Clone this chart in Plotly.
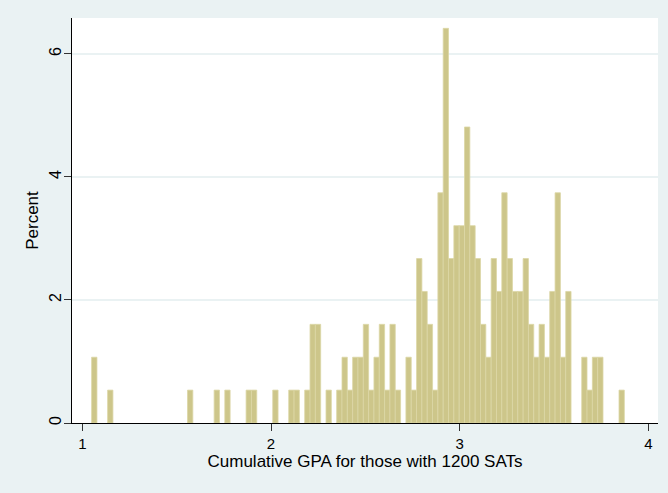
import plotly.graph_objects as go

# Histogram of cumulative GPA (100 equal-width bins), heights in percent
bin_start = 1.049
bin_width = 0.028235

# non-empty bins: index of the bin and number of students in it
bin_index = [0, 3, 18, 23, 25, 29, 30, 34, 37, 38, 40, 41, 42, 44, 46, 47, 48,
             49, 50, 51, 52, 53, 54, 55, 56, 57, 59, 60, 61, 62, 63, 64, 65,
             66, 67, 68, 69, 70, 71, 72, 73, 74, 75, 76, 77, 78, 79, 80, 81,
             82, 83, 84, 85, 86, 87, 88, 89, 92, 93, 94, 95, 99]
bin_count = [2, 1, 1, 1, 1, 1, 1, 1, 1, 1, 1, 3, 3, 1, 1, 2, 1,
             2, 2, 3, 1, 2, 3, 1, 3, 1, 2, 1, 5, 4, 3, 1, 7,
             12, 5, 6, 6, 9, 6, 5, 3, 2, 5, 4, 7, 5, 4, 4, 5,
             3, 2, 3, 2, 4, 7, 2, 4, 2, 1, 2, 2, 1]

x_ticks = [1, 2, 3, 4]
y_ticks = [0, 2, 4, 6]

total = sum(bin_count)
centers = [bin_start + (i + 0.5) * bin_width for i in bin_index]
percent = [c / total * 100 for c in bin_count]

BG = "#EAF2F3"
FONT = "Liberation Sans, Arial, Helvetica, sans-serif"

fig = go.Figure(
    go.Bar(
        x=centers,
        y=percent,
        width=bin_width,
        marker=dict(color="#CDC68A", line=dict(color="#DCD7A6", width=0.8)),
        showlegend=False,
    )
)

fig.update_layout(
    width=668,
    height=493,
    margin=dict(l=72, r=10, t=18, b=70),
    paper_bgcolor=BG,
    plot_bgcolor="white",
    font=dict(family=FONT, size=15, color="black"),
    xaxis=dict(
        range=[0.945, 4.051],
        tickmode="array",
        tickvals=x_ticks,
        ticktext=[str(v) for v in x_ticks],
        ticks="outside",
        ticklen=7,
        tickwidth=1,
        tickcolor="#333333",
        showgrid=False,
        zeroline=False,
        showline=True,
        linecolor="black",
        linewidth=1,
        tickfont=dict(size=15),
        title=dict(text="Cumulative GPA for those with 1200 SATs",
                   font=dict(size=17), standoff=2),
    ),
    yaxis=dict(
        range=[0, 6.585],
        tickmode="array",
        tickvals=y_ticks,
        ticktext=[str(v) for v in y_ticks],
        tickangle=-90,
        ticklabelstandoff=-3,
        ticks="outside",
        ticklen=7,
        tickwidth=1,
        tickcolor="#333333",
        showgrid=True,
        gridcolor=BG,
        gridwidth=1.5,
        zeroline=False,
        showline=True,
        linecolor="black",
        linewidth=1,
        tickfont=dict(size=16),
        title=dict(text="Percent", font=dict(size=17), standoff=3),
    ),
)

fig.write_html("out.html")
